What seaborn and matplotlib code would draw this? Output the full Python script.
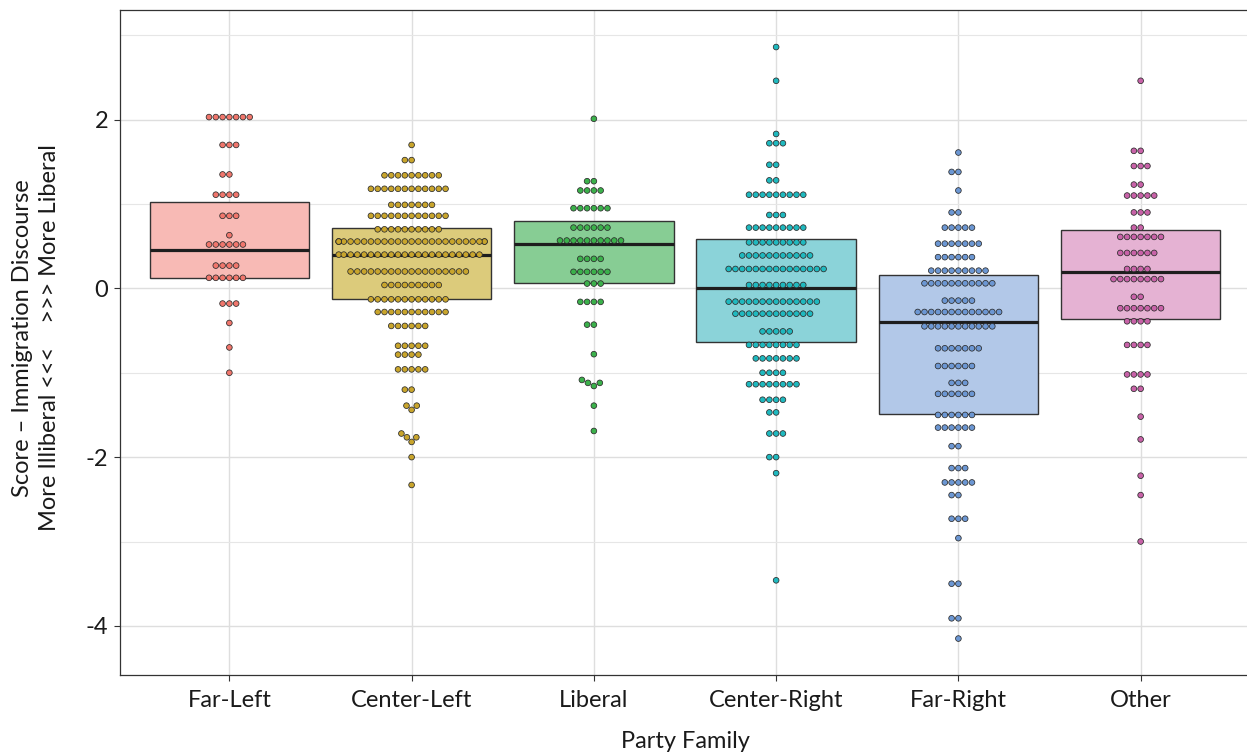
import numpy as np
import pandas as pd
import matplotlib
matplotlib.use("Agg")
import matplotlib.pyplot as plt
import seaborn as sns

# ---- data -----------------------------------------------------------------
families = ["Far-Left", "Center-Left", "Liberal", "Center-Right", "Far-Right", "Other"]

# score levels (one dot row each) and number of parties on each level
far_left_scores = [2.03, 1.70, 1.35, 1.11, 0.86, 0.63, 0.52, 0.27, 0.125,
                   -0.18, -0.41, -0.70, -1.00]
far_left_counts = [7, 3, 2, 4, 3, 1, 6, 4, 6, 3, 1, 1, 1]

center_left_scores = [1.70, 1.52, 1.34, 1.18, 0.99, 0.86, 0.70, 0.555, 0.40,
                      0.20, 0.04, -0.13, -0.28, -0.445, -0.68, -0.785, -0.96,
                      -1.20, -1.39, -1.44, -1.72, -1.765, -1.82, -2.00, -2.33]
center_left_counts = [1, 2, 9, 12, 7, 12, 10, 26, 22,
                      18, 9, 12, 11, 6, 5, 4, 5,
                      2, 2, 1, 1, 2, 1, 1, 1]

liberal_scores = [2.01, 1.27, 1.16, 0.95, 0.72, 0.567, 0.35, 0.196, 0.057,
                  -0.16, -0.43, -0.78, -1.085, -1.12, -1.157, -1.39, -1.69]
liberal_counts = [1, 2, 4, 6, 6, 10, 4, 6, 3,
                  4, 2, 1, 1, 2, 1, 1, 1]

center_right_scores = [2.86, 2.46, 1.83, 1.72, 1.465, 1.28, 1.11, 0.87, 0.72,
                       0.545, 0.39, 0.23, 0.04, -0.157, -0.30, -0.51, -0.67,
                       -0.83, -1.00, -1.136, -1.32, -1.47, -1.72, -2.00, -2.19,
                       -3.46]
center_right_counts = [1, 1, 1, 3, 2, 2, 9, 3, 9,
                       9, 11, 15, 9, 14, 12, 5, 8,
                       7, 4, 8, 4, 2, 3, 2, 1,
                       1]

far_right_scores = [1.61, 1.38, 1.16, 0.90, 0.72, 0.53, 0.37, 0.21, 0.06,
                    -0.145, -0.28, -0.45, -0.71, -0.92, -1.12, -1.25, -1.50,
                    -1.65, -1.87, -2.13, -2.30, -2.45, -2.73, -2.96, -3.50,
                    -3.91, -4.15]
far_right_counts = [1, 2, 1, 2, 5, 7, 6, 9, 11,
                    5, 13, 11, 7, 6, 3, 6, 6,
                    6, 2, 3, 5, 2, 3, 1, 2,
                    2, 1]

other_scores = [2.46, 1.63, 1.45, 1.23, 1.10, 0.90, 0.72, 0.61, 0.42, 0.23,
                0.11, -0.10, -0.235, -0.39, -0.67, -1.02, -1.19, -1.52,
                -1.79, -2.22, -2.45, -3.00]
other_counts = [1, 2, 3, 2, 5, 3, 2, 7, 6, 4,
                8, 2, 7, 4, 4, 4, 2, 1,
                1, 1, 1, 1]

# box summaries per family (lower hinge, middle line, upper hinge)
box_q1 = [0.125, -0.13, 0.06, -0.63, -1.485, -0.36]
box_median = [0.46, 0.40, 0.52, 0.00, -0.395, 0.195]
box_q3 = [1.025, 0.72, 0.795, 0.585, 0.16, 0.695]

dot_colors = ["#F0766C", "#C9A52C", "#3BB14B", "#1FB9BF", "#6C97D3", "#C862A8"]
box_fills = ["#F8BAB5", "#DCCB7B", "#87CD94", "#8BD3D9", "#B2C8E8", "#E5B2D3"]

scores_by_family = [
    (far_left_scores, far_left_counts),
    (center_left_scores, center_left_counts),
    (liberal_scores, liberal_counts),
    (center_right_scores, center_right_counts),
    (far_right_scores, far_right_counts),
    (other_scores, other_counts),
]

frames = []
for fam, (sc, ct) in zip(families, scores_by_family):
    frames.append(pd.DataFrame({"family": fam, "score": np.repeat(sc, ct)}))
df = pd.concat(frames, ignore_index=True)

# ---- figure ---------------------------------------------------------------
sns.set_theme(style="white")
plt.rcParams["font.family"] = ["Lato", "DejaVu Sans"]
plt.rcParams["axes.unicode_minus"] = False

W, H = 1247, 756
fig = plt.figure(figsize=(W / 100, H / 100), dpi=100)
ax = fig.add_axes([120 / W, (H - 675) / H, 1130 / W, 665 / H])

palette = dict(zip(families, dot_colors))
sns.swarmplot(data=df, x="family", y="score", hue="family", order=families,
              palette=palette, size=4.1, edgecolor="#2b2b2b", linewidth=0.55,
              legend=False, ax=ax, zorder=4, warn_thresh=1.0)

stats = [dict(med=m, q1=a, q3=b, whislo=a, whishi=b, fliers=[])
         for a, m, b in zip(box_q1, box_median, box_q3)]
bp = ax.bxp(stats, positions=range(len(families)), widths=0.875,
            patch_artist=True, showcaps=False, showfliers=False,
            boxprops=dict(edgecolor="#333333", linewidth=1.0),
            medianprops=dict(color="#1e1e1e", linewidth=2.3),
            whiskerprops=dict(linewidth=0),
            manage_ticks=False, zorder=2)
for patch, fc in zip(bp["boxes"], box_fills):
    patch.set_facecolor(fc)

# axes, grid and frame
ax.set_xlim(-0.6, 5.6)
ax.set_ylim(-4.582, 3.299)
ax.set_xticks(range(len(families)))
ax.set_xticklabels(families)
ax.set_yticks([-4, -2, 0, 2])
ax.set_yticks([-3, -1, 1, 3], minor=True)
ax.set_axisbelow(True)
ax.grid(which="major", axis="both", color="#DEDEDE", linewidth=1.0)
ax.grid(which="minor", axis="y", color="#E6E6E6", linewidth=0.8)
ax.tick_params(axis="both", which="major", length=4.5, width=0.8,
               color="#333333", labelsize=17, labelcolor="#1a1a1a", pad=4,
               bottom=True, left=True)
ax.tick_params(axis="x", which="major", pad=6)
ax.tick_params(axis="y", which="minor", length=0)
for side in ax.spines.values():
    side.set_color("#333333")
    side.set_linewidth(0.9)

ax.set_xlabel("")
ax.set_ylabel("")
fig.text(685 / W, 1 - 742 / H, "Party Family", ha="center", va="center",
         fontsize=17, color="#1a1a1a")
fig.text(36 / W, 1 - 338 / H,
         "Score \u2013 Immigration Discourse\nMore Illiberal <<<    >>> More Liberal",
         rotation=90, ha="center", va="center", multialignment="center",
         fontsize=17, color="#1a1a1a", linespacing=1.32)

fig.savefig("out.png", dpi=100)
